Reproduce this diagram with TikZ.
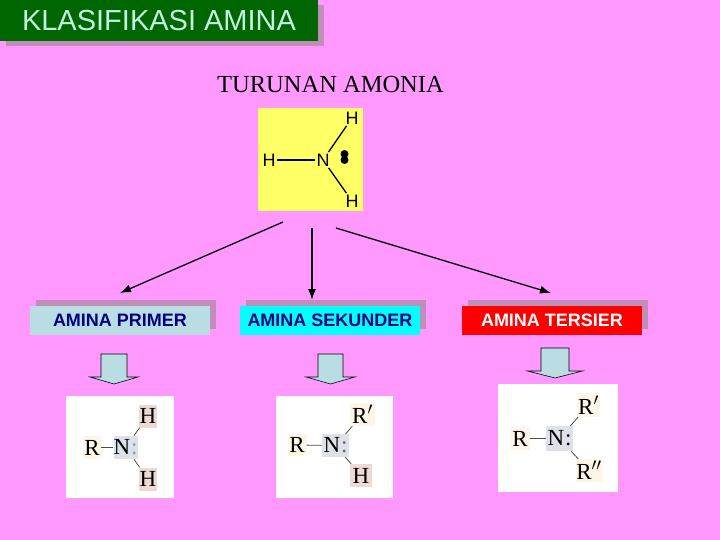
\documentclass[tikz,border=0pt]{standalone}
\usepackage{fontspec}
\setmainfont{Liberation Serif}
\setsansfont{Liberation Sans}
\usepackage{xcolor}
\usetikzlibrary{arrows.meta,shadows}

\definecolor{bgpink}{HTML}{FF99FF}
\definecolor{shadowmauve}{HTML}{C08FB8}
\definecolor{titlegreen}{HTML}{006600}
\definecolor{titletext}{HTML}{C4F0E2}
\definecolor{palecyan}{HTML}{B9DDE2}
\definecolor{brightcyan}{HTML}{00FFFF}
\definecolor{labelnavy}{HTML}{000080}
\definecolor{notepaper}{HTML}{FFFF66}
\definecolor{rtint}{HTML}{FDF5E6}
\definecolor{ntint}{HTML}{DDE1EA}
\definecolor{htint}{HTML}{EDD9D6}

\tikzset{
    classbox/.style={
        minimum width=180pt, minimum height=29pt, inner sep=0pt,
        font=\sffamily\bfseries\fontsize{18}{18}\selectfont, text=labelnavy,
        general shadow={fill=shadowmauve,shadow xshift=6pt,shadow yshift=6pt}
    },
    molpanel/.style={fill=white, draw=none, inner sep=0pt},
    atom/.style={
        inner sep=0pt, minimum height=23pt,
        font=\rmfamily\fontsize{23}{23}\selectfont
    },
    hatom/.style={atom, fill=htint, minimum width=19pt},
    ratom/.style={atom, fill=rtint, minimum width=20pt},
    natom/.style={atom, fill=ntint, minimum width=26pt},
    ammatom/.style={
        inner sep=1.5pt,
        font=\sffamily\fontsize{18}{18}\selectfont
    },
    bond/.style={line width=0.8pt, black!70},
    ammbond/.style={line width=1.3pt, black},
    branch/.style={->, line width=1.3pt, black}
}

\begin{document}
\begin{tikzpicture}[
    x=1pt,
    y=-1pt,
    >={Latex[length=11pt,width=8pt]}
]

\useasboundingbox (0,0) rectangle (720,540);
\fill[bgpink] (0,0) rectangle (720,540);

% ---------------------------------------------------------
% Heading
% ---------------------------------------------------------

\node[
    fill=titlegreen,
    text=titletext,
    minimum width=318pt,
    minimum height=41pt,
    inner sep=0pt,
    font=\sffamily\fontsize{29}{29}\selectfont,
    general shadow={fill=shadowmauve,shadow xshift=6pt,shadow yshift=-5pt}
] (title) at (159,20.5) {KLASIFIKASI AMINA};

\node[font=\rmfamily\fontsize{24.5}{24.5}\selectfont,text=black]
    (parent) at (330.5,85) {TURUNAN AMONIA};

% ---------------------------------------------------------
% Ammonia
% ---------------------------------------------------------

\node[fill=notepaper,minimum width=105pt,minimum height=103pt,inner sep=0pt]
    (ammonia) at (310.5,159.5) {};

\node[ammatom] (nh) at (323,160) {N};
\node[ammatom] (hl) at (269,160) {H};
\node[ammatom] (ht) at (352,118) {H};
\node[ammatom] (hb) at (352,201) {H};

\draw[ammbond] (nh) -- (hl);
\draw[ammbond] (nh) -- (ht);
\draw[ammbond] (nh) -- (hb);

\node[circle,fill=black,inner sep=0pt,minimum size=8pt] (lpa) at (344.5,154) {};
\node[circle,fill=black,inner sep=0pt,minimum size=8pt] (lpb) at (344.5,160) {};

% ---------------------------------------------------------
% Classes
% ---------------------------------------------------------

\node[classbox,fill=palecyan] (primer) at (120,320.5) {AMINA PRIMER};
\node[classbox,fill=brightcyan] (sekunder) at (330,320.5) {AMINA SEKUNDER};
\node[classbox,fill=red,text=white] (tersier) at (552,320.5) {AMINA TERSIER};

% Branches
\coordinate (fromleft) at (283,222);
\coordinate (frommid) at (312,228);
\coordinate (fromright) at (336,228);
\coordinate (toleft) at (120,293);
\coordinate (tomid) at (312,300);
\coordinate (toright) at (551,293);

\draw[branch] (fromleft) -- (toleft);
\draw[branch] (frommid) -- (tomid);
\draw[branch] (fromright) -- (toright);

% Block arrows
\foreach \xx/\yy/\hw/\sw in {
    114/354/24/13,
    330.5/354/24.5/12.5,
    555/348/27.5/14
}{
    \draw[fill=palecyan,line width=0.6pt]
        (\xx-\sw,\yy) -- (\xx+\sw,\yy) -- (\xx+\sw,\yy+23)
        -- (\xx+\hw,\yy+23) -- (\xx,\yy+30) -- (\xx-\hw,\yy+23)
        -- (\xx-\sw,\yy+23) -- cycle;
}

% ---------------------------------------------------------
% Primary amine
% ---------------------------------------------------------

\node[molpanel,minimum width=108pt,minimum height=102pt] (panela) at (120,447) {};

\node[ratom,minimum width=18pt] (ra) at (92,447.5) {R};
\node[natom,minimum width=23pt] (na) at (125.5,447.5)
    {N\textcolor{black!40}{\kern1pt:}};
\node[hatom,minimum width=18pt] (hta) at (148,416) {H};
\node[hatom,minimum width=18pt] (hba) at (148,479) {H};

\draw[bond] (ra) -- (na);
\draw[bond] (na) -- (hta);
\draw[bond] (na) -- (hba);

% ---------------------------------------------------------
% Secondary amine
% ---------------------------------------------------------

\node[molpanel,minimum width=117pt,minimum height=102pt] (panelb) at (334.5,447) {};

\node[ratom,minimum width=19pt,minimum height=22pt] (rb) at (297,445) {R};
\node[natom,minimum width=27pt] (nb) at (335.5,445.5)
    {N\textcolor{black!60}{\kern1pt:}};
\node[ratom,minimum width=25pt] (rpb) at (362.5,414.5) {R$'$};
\node[hatom,minimum width=22pt] (hbb) at (361,475.5) {H};

\draw[bond] (rb) -- (nb);
\draw[bond] (nb) -- (rpb);
\draw[bond] (nb) -- (hbb);

% ---------------------------------------------------------
% Tertiary amine
% ---------------------------------------------------------

\node[molpanel,minimum width=120pt,minimum height=108pt] (panelc) at (558,438) {};

\node[ratom] (rc) at (520,438.5) {R};
\node[natom,minimum width=27pt,minimum height=25pt] (nc) at (559.5,438.5)
    {N\kern1pt:};
\node[ratom,minimum width=23pt,minimum height=24pt] (rpc) at (588.5,405) {R$'$};
\node[ratom,minimum width=26pt] (rppc) at (589,470.5) {R$''$};

\draw[bond] (rc) -- (nc);
\draw[bond] (nc) -- (rpc);
\draw[bond] (nc) -- (rppc);

\end{tikzpicture}
\end{document}
